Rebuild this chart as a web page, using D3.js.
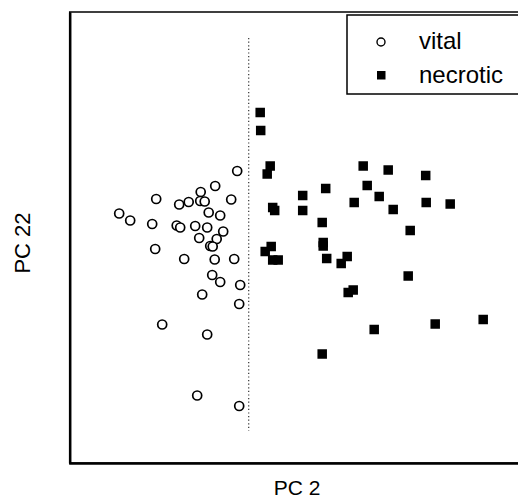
<!DOCTYPE html>
<html>
<head>
<meta charset="utf-8">
<script src="https://cdn.jsdelivr.net/npm/d3@7"></script>
<style>
html,body{margin:0;padding:0;background:#fff;overflow:hidden;}
svg{display:block;}
</style>
</head>
<body>
<script>
// Vital samples (PC 2, PC 22 scores)
const vitalPC2  = [-0.23,-0.67,-0.96,-1.85,-0.35,-1.39,-1.20,-0.97,-0.88,-0.80,-0.57,-2.59,-2.37,-1.93,-1.44,-1.37,-1.07,-0.83,-0.51,-0.99,-0.64,-0.77,-0.72,-1.87,-1.29,-0.68,-0.29,-0.73,-0.57,-0.17,-0.93,-0.19,-1.73,-0.83,-1.03,-0.19];
const vitalPC22 = [1.58,1.28,1.16,1.02,1.01,0.91,0.96,0.98,0.97,0.75,0.69,0.73,0.59,0.52,0.49,0.45,0.48,0.45,0.37,0.24,0.22,0.08,0.07,0.02,-0.18,-0.19,-0.18,-0.50,-0.64,-0.70,-0.89,-1.08,-1.49,-1.69,-2.91,-3.12];
// Necrotic samples
const necroPC2  = [0.23,0.24,0.43,0.37,2.29,2.79,3.54,2.37,1.54,1.08,2.61,2.11,3.55,4.03,0.48,0.52,1.08,2.89,1.47,3.23,1.49,1.49,0.45,0.33,0.48,0.59,1.56,1.97,1.85,3.19,2.09,1.99,2.51,3.73,4.69,1.47];
const necroPC22 = [2.75,2.39,1.68,1.52,1.68,1.60,1.49,1.29,1.23,1.09,1.07,0.95,0.95,0.92,0.85,0.79,0.79,0.81,0.55,0.39,0.15,0.08,0.07,-0.03,-0.20,-0.20,-0.17,-0.13,-0.27,-0.52,-0.80,-0.85,-1.59,-1.48,-1.39,-2.08];
const legendLabels = ["vital","necrotic"];
const xDomain = [-3.6, 5.4];
const yDomain = [4.76, -4.26];
const separatorX = 0;
const separatorY = [4.24, -3.62];

const W = 518, H = 501;
const svg = d3.select("body").append("svg").attr("width", W).attr("height", H);
const x = d3.scaleLinear().domain(xDomain).range([68.7, 518.7]);
const y = d3.scaleLinear().domain(yDomain).range([12, 463]);

const vital = vitalPC2.map((v,i)=>({x:v,y:vitalPC22[i]}));
const necro = necroPC2.map((v,i)=>({x:v,y:necroPC22[i]}));

// frame
svg.append("rect")
  .attr("x", x(xDomain[0])+1).attr("y", y(yDomain[0]))
  .attr("width", 520).attr("height", y(yDomain[1]) - y(yDomain[0]))
  .attr("fill","none").attr("stroke","#000").attr("stroke-width",1.5);
svg.append("g").attr("transform",`translate(0,${y(yDomain[1])})`)
  .call(d3.axisBottom(x).tickValues([]).tickSizeOuter(0))
  .select(".domain").attr("stroke-width",2.5);
svg.append("g").attr("transform",`translate(${x(xDomain[0])+1},0)`)
  .call(d3.axisLeft(y).tickValues([]).tickSizeOuter(0))
  .select(".domain").attr("stroke-width",2.5);

// separator dotted
svg.append("line")
  .attr("x1", x(separatorX)).attr("x2", x(separatorX))
  .attr("y1", y(separatorY[0])).attr("y2", y(separatorY[1]))
  .attr("stroke","#333").attr("stroke-width",1.2).attr("stroke-dasharray","1.2,2.4");

// points
svg.append("g").selectAll("circle").data(vital).join("circle")
  .attr("cx", d=>x(d.x)).attr("cy", d=>y(d.y)).attr("r",4.5)
  .attr("fill","#fff").attr("stroke","#000").attr("stroke-width",1.7);
const s = 9.5;
svg.append("g").selectAll("rect").data(necro).join("rect")
  .attr("x", d=>x(d.x)-s/2).attr("y", d=>y(d.y)-s/2)
  .attr("width", s).attr("height", s).attr("fill","#000");

// legend
const lg = svg.append("g");
lg.append("rect").attr("x",347).attr("y",15).attr("width",200).attr("height",79)
  .attr("fill","#fff").attr("stroke","#000").attr("stroke-width",1.5);
lg.append("circle").attr("cx",381).attr("cy",42).attr("r",4).attr("fill","#fff").attr("stroke","#000").attr("stroke-width",1.4);
lg.append("rect").attr("x",377).attr("y",71).attr("width",8.5).attr("height",8.5).attr("fill","#000");
lg.selectAll("text").data(legendLabels).join("text")
  .attr("x",419).attr("y",(d,i)=>49+i*34)
  .attr("font-family","Liberation Sans, Arial, sans-serif").attr("font-size",24)
  .attr("fill","#000").text(d=>d);

// axis titles
svg.append("text").attr("x",297).attr("y",495).attr("text-anchor","middle")
  .attr("font-family","Liberation Sans, Arial, sans-serif").attr("font-size",21).text("PC 2");
svg.append("text").attr("transform","translate(30,243) rotate(-90)").attr("text-anchor","middle")
  .attr("font-family","Liberation Sans, Arial, sans-serif").attr("font-size",22).text("PC 22");
</script>
</body>
</html>
